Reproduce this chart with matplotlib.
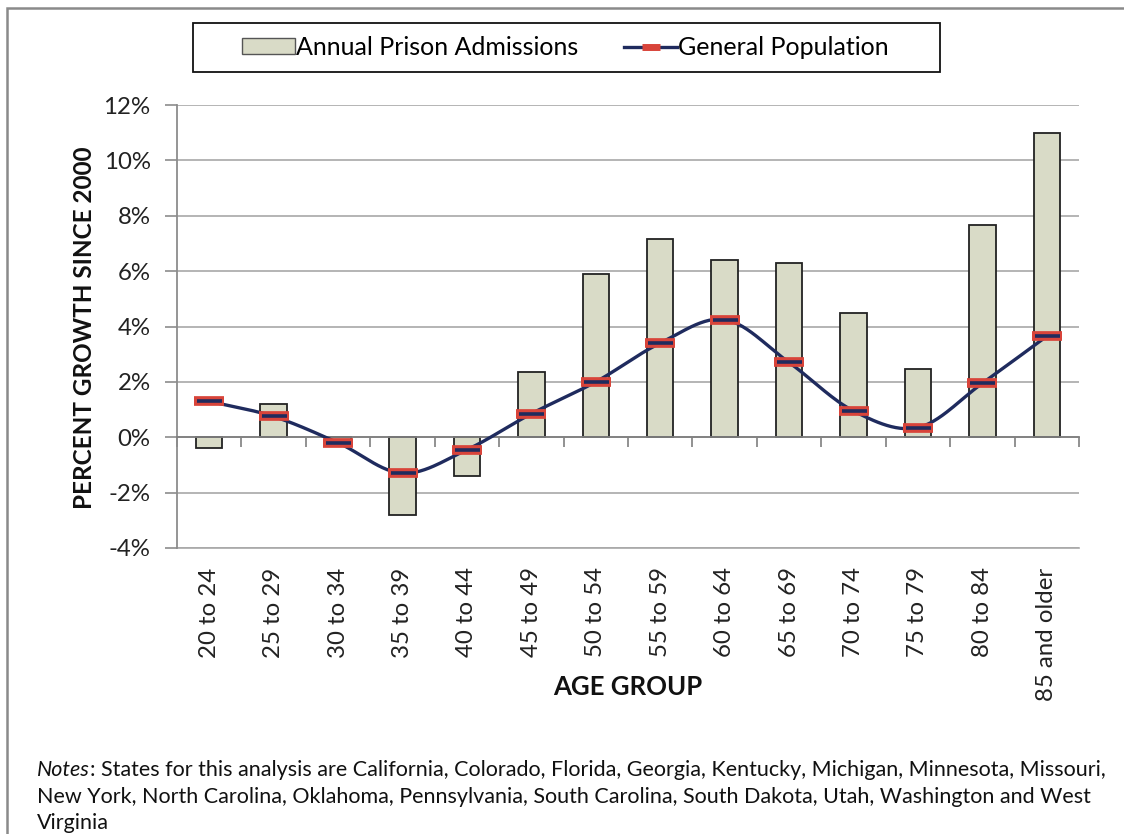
import numpy as np
import matplotlib.pyplot as plt
from matplotlib.patches import Patch, Rectangle
from matplotlib.lines import Line2D
from matplotlib.ticker import FuncFormatter

plt.rcParams['font.family'] = ['Lato', 'DejaVu Sans']

# data (percent growth since 2000)
age_groups = ["20 to 24", "25 to 29", "30 to 34", "35 to 39", "40 to 44", "45 to 49",
              "50 to 54", "55 to 59", "60 to 64", "65 to 69", "70 to 74", "75 to 79",
              "80 to 84", "85 and older"]
prison_admissions = [-0.4, 1.2, -0.1, -2.8, -1.4, 2.35, 5.9, 7.15, 6.4, 6.3, 4.5, 2.45, 7.65, 11.0]
general_population = [1.3, 0.75, -0.2, -1.3, -0.45, 0.85, 2.0, 3.4, 4.25, 2.7, 0.95, 0.35, 1.95, 3.65]

bar_color = "#D9DBC7"
line_color = "#1F2B5E"
marker_red = "#D8443A"
grid_gray = "#A8A8A8"
tick_size = 17.3
label_size = 17.5
notes_size = 15.5


def catmull_rom(xs, ys, n=30):
    # smoothed line like the spreadsheet "smoothed line" option
    xs = np.asarray(xs, float)
    ys = np.asarray(ys, float)
    px = np.concatenate([[2 * xs[0] - xs[1]], xs, [2 * xs[-1] - xs[-2]]])
    py = np.concatenate([[2 * ys[0] - ys[1]], ys, [2 * ys[-1] - ys[-2]]])
    out_x, out_y = [], []
    t = np.linspace(0, 1, n)
    for i in range(1, len(px) - 2):
        for p, o in ((px, out_x), (py, out_y)):
            p0, p1, p2, p3 = p[i - 1], p[i], p[i + 1], p[i + 2]
            seg = 0.5 * (2 * p1 + (-p0 + p2) * t + (2 * p0 - 5 * p1 + 4 * p2 - p3) * t ** 2
                         + (-p0 + 3 * p1 - 3 * p2 + p3) * t ** 3)
            o.extend(seg)
    return np.array(out_x), np.array(out_y)


fig = plt.figure(figsize=(11.24, 8.34), dpi=100)
ax = fig.add_axes([177 / 1124, 1 - 548 / 834, (1079 - 177) / 1124, (548 - 105) / 834])

x = np.arange(len(age_groups))
ax.bar(x, prison_admissions, width=0.41, color=bar_color, edgecolor="#222222",
       linewidth=1.3, zorder=2)

sx, sy = catmull_rom(x, general_population)
ax.plot(sx, sy, color=line_color, linewidth=2.4, zorder=3)
ax.plot(x, general_population, linestyle='none', marker='_', markersize=21,
        markeredgewidth=7, color=marker_red, zorder=4)
ax.plot(x, general_population, linestyle='none', marker='_', markersize=18,
        markeredgewidth=2.6, color=line_color, zorder=5)

ax.set_xlim(-0.5, len(age_groups) - 0.5)
ax.set_ylim(-4, 12)
ax.set_yticks(np.arange(-4, 13, 2))
ax.yaxis.set_major_formatter(FuncFormatter(lambda v, p: f"{v:.0f}%"))
ax.grid(axis='y', color=grid_gray, linewidth=1.2, zorder=0)
ax.set_axisbelow(True)

# category axis crosses at zero, labels stay at the bottom
ax.spines['bottom'].set_position(('data', 0))
ax.spines['bottom'].set_color("#7F7F7F")
ax.spines['bottom'].set_linewidth(1.3)
ax.spines['left'].set_color("#8C8C8C")
ax.spines['left'].set_linewidth(1.3)
ax.spines['top'].set_visible(False)
ax.spines['right'].set_visible(False)
ax.set_xticks(np.arange(-0.5, len(age_groups), 1.0))
ax.set_xticklabels([])
ax.tick_params(axis='x', direction='out', length=7, width=1.2, color="#7F7F7F")
ax.tick_params(axis='y', direction='out', length=9, width=1.2, color="#8C8C8C",
               labelsize=tick_size, pad=10, labelcolor="#222222")

sec = ax.secondary_xaxis(0.0)
sec.set_xticks(x)
sec.set_xticklabels(age_groups, rotation=90, fontsize=tick_size, color="#222222", va='top')
sec.tick_params(length=0, pad=14)
sec.spines['bottom'].set_color(grid_gray)
sec.spines['bottom'].set_linewidth(1.2)

fig.text(85 / 1124, 1 - 328 / 834, "PERCENT GROWTH SINCE 2000", rotation=90,
         ha='center', va='center', fontsize=label_size, fontweight='bold', color="#111111")
fig.text(628 / 1124, 1 - 687 / 834, "AGE GROUP", ha='center', va='center',
         fontsize=18.5, fontweight='bold', color="#111111")

# legend, frame drawn separately to match the box
handles = [
    Patch(facecolor=bar_color, edgecolor="#555555", linewidth=1.0),
    Line2D([0], [0], color=line_color, linewidth=2.4, marker='_', markersize=13,
           markeredgewidth=5, markeredgecolor=marker_red),
]
leg = fig.legend(handles, ["Annual Prison Admissions", "General Population"],
                 loc='center left', bbox_to_anchor=(242 / 1124, 1 - 47.5 / 834), ncol=2,
                 fontsize=18, frameon=False, handlelength=2.1, handleheight=0.6,
                 handletextpad=0.05, columnspacing=1.85, borderpad=0, borderaxespad=0)
fig.patches.append(Rectangle((193 / 1124, 1 - 72 / 834), (940 - 193) / 1124, 49 / 834,
                             transform=fig.transFigure, fill=False,
                             edgecolor="#111111", linewidth=1.3))

# notes
notes = fig.text(37 / 1124, 1 - 770 / 834, "Notes", fontstyle='italic', fontsize=notes_size,
                 va='center', ha='left', color="#111111")
ax.annotate(": States for this analysis are California, Colorado, Florida, Georgia, Kentucky, "
            "Michigan, Minnesota, Missouri,", xy=(1, 0.5), xycoords=notes, va='center',
            ha='left', fontsize=notes_size, color="#111111", annotation_clip=False)
fig.text(37 / 1124, 1 - 797 / 834, "New York, North Carolina, Oklahoma, Pennsylvania, South "
         "Carolina, South Dakota, Utah, Washington and West", fontsize=notes_size,
         va='center', ha='left', color="#111111")
fig.text(37 / 1124, 1 - 823 / 834, "Virginia", fontsize=notes_size, va='center', ha='left',
         color="#111111")

# outer chart border
fig.patches.append(Rectangle((7 / 1124, -0.05), 1.1, 1 - 8 / 834 + 0.05,
                             transform=fig.transFigure, fill=False,
                             edgecolor="#8A8A8A", linewidth=1.8))

fig.savefig("out.png", dpi=100)
